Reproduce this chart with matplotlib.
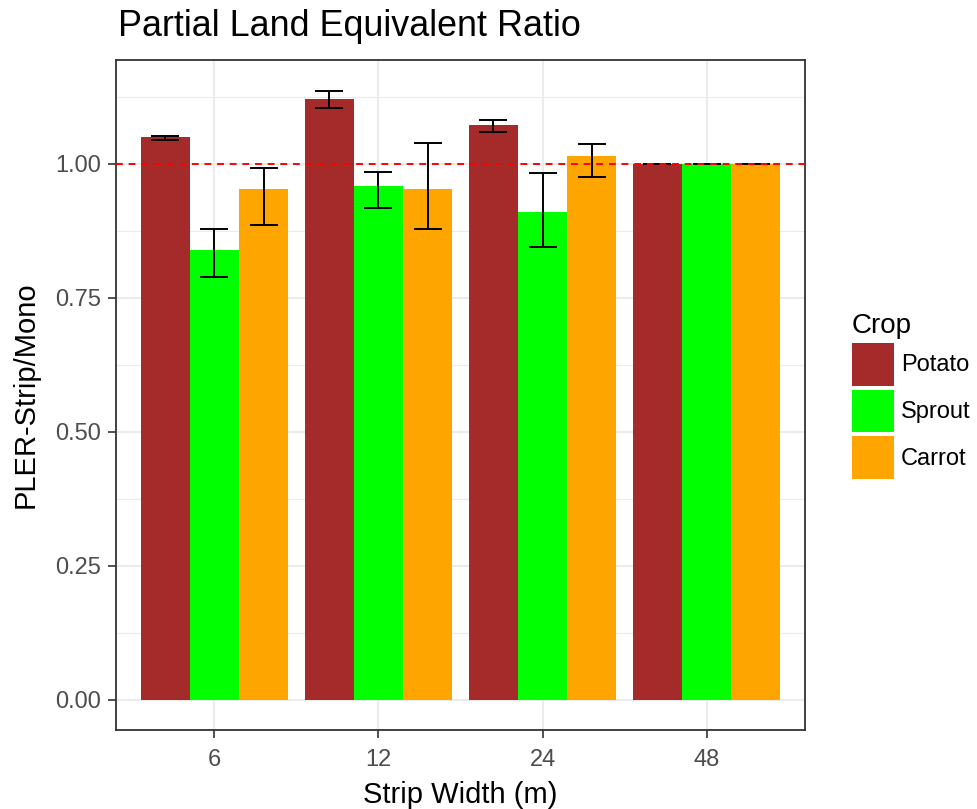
import matplotlib
matplotlib.use("Agg")
import matplotlib.pyplot as plt
import numpy as np
from matplotlib.patches import Patch

plt.rcParams['font.family'] = ['Liberation Sans', 'DejaVu Sans']

widths = ["6", "12", "24", "48"]
crops = ["Potato", "Sprout", "Carrot"]
colors = ["#A52A2A", "#00FF00", "#FFA500"]

potato = [1.050, 1.121, 1.072, 1.000]
sprout = [0.840, 0.959, 0.911, 1.000]
carrot = [0.953, 0.953, 1.015, 1.000]

potato_lo = [1.044, 1.104, 1.059, 1.000]
potato_hi = [1.052, 1.137, 1.082, 1.000]
sprout_lo = [0.789, 0.917, 0.846, 1.000]
sprout_hi = [0.879, 0.985, 0.984, 1.000]
carrot_lo = [0.887, 0.879, 0.976, 1.000]
carrot_hi = [0.992, 1.040, 1.037, 1.000]

values = [potato, sprout, carrot]
lows = [potato_lo, sprout_lo, carrot_lo]
highs = [potato_hi, sprout_hi, carrot_hi]

fig = plt.figure(figsize=(9.78, 8.09), dpi=100)
ax = fig.add_axes([116/978, 1-730/809, (805-116)/978, (730-60)/809])

x = np.arange(len(widths))
bw = 0.3
offsets = [-0.3, 0.0, 0.3]

ax.set_xlim(-0.6, 3.6)
ax.set_ylim(-0.056, 1.194)

# grid
for yv in np.arange(-0.125, 1.2, 0.25):
    ax.axhline(yv, color="#EBEBEB", lw=0.8, zorder=0)
for yv in np.arange(0, 1.2, 0.25):
    ax.axhline(yv, color="#EBEBEB", lw=1.5, zorder=0)
for xv in x:
    ax.axvline(xv, color="#EBEBEB", lw=1.5, zorder=0)

for k in range(3):
    v = np.array(values[k])
    lo = np.array(lows[k])
    hi = np.array(highs[k])
    ax.bar(x + offsets[k], v, width=bw, color=colors[k], zorder=2, label=crops[k])
    ax.errorbar(x + offsets[k], v, yerr=[v - lo, hi - v], fmt="none",
                ecolor="black", elinewidth=1.4, capsize=10, capthick=1.4, zorder=3)

ax.axhline(1.0, color="red", lw=1.4, linestyle=(0, (3.5, 3)), zorder=4)

ax.set_xticks(x)
ax.set_xticklabels(widths)
ax.set_yticks([0, 0.25, 0.5, 0.75, 1.0])
ax.set_yticklabels(["0.00", "0.25", "0.50", "0.75", "1.00"])
ax.tick_params(axis="both", colors="#333333", labelcolor="#4D4D4D",
               labelsize=17, length=6, width=1.2, pad=5)
ax.tick_params(axis="x", pad=8)
for s in ax.spines.values():
    s.set_color("#333333")
    s.set_linewidth(1.3)

ax.set_xlabel("Strip Width (m)", fontsize=21, labelpad=7)
ax.set_ylabel("PLER-Strip/Mono", fontsize=21, labelpad=11)
fig.text(118/978, 1-27/809, "Partial Land Equivalent Ratio", fontsize=25.8,
         ha="left", va="center")

handles = [Patch(facecolor=c, edgecolor="none") for c in colors]
leg = fig.legend(handles, crops, title="Crop", loc="center left",
                 bbox_to_anchor=(852/978, 1-396/809), frameon=False,
                 fontsize=17, title_fontsize=20, handlelength=1.78,
                 handleheight=2.42, labelspacing=0.17, handletextpad=0.3,
                 borderaxespad=0, borderpad=0)
leg._legend_box.align = "left"

fig.savefig("out.png", dpi=100)
